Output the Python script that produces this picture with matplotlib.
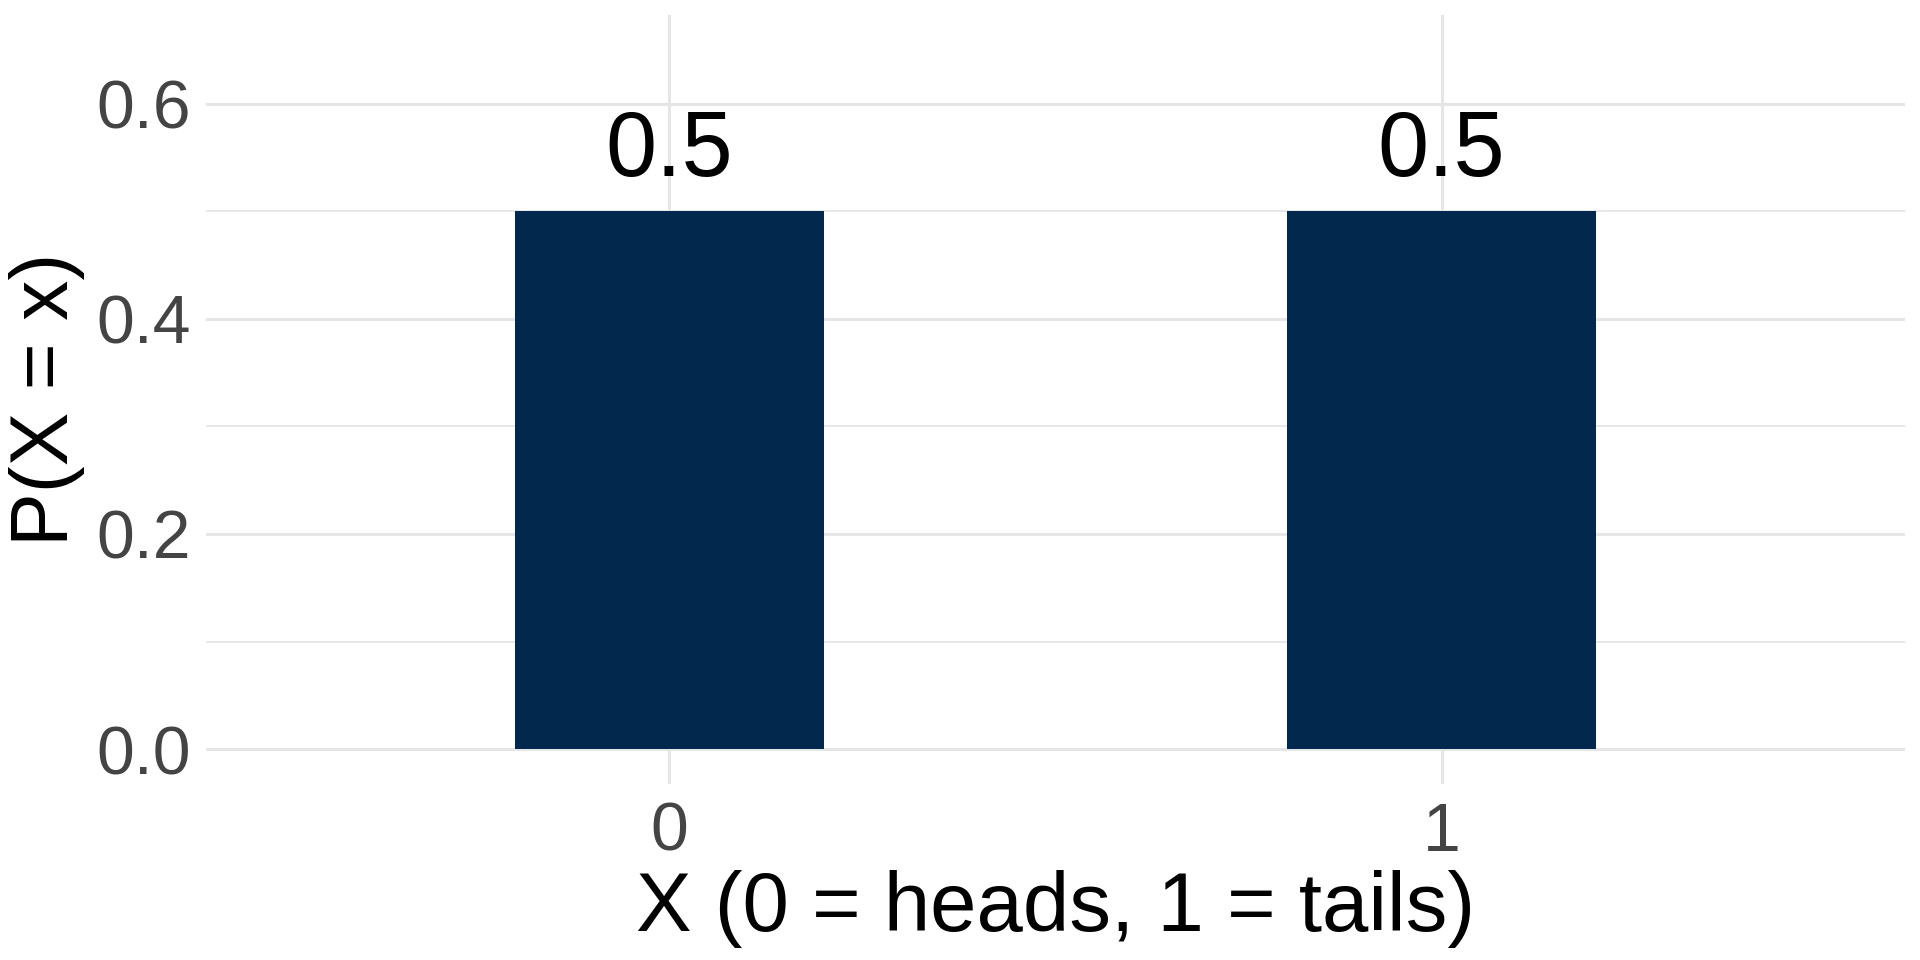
import matplotlib
matplotlib.use("Agg")
import matplotlib.pyplot as plt

# 数据
outcomes = [0, 1]
tick_labels = ["0", "1"]
probs = [0.5, 0.5]
y_ticks = [0.0, 0.2, 0.4, 0.6]
y_minor = [0.1, 0.3, 0.5]

BAR_COLOR = "#03284D"
GRID_COLOR = "#E6E6E6"

plt.rcParams["font.family"] = ["Liberation Sans", "DejaVu Sans"]

fig = plt.figure(figsize=(19.2, 9.6), dpi=100)
ax = fig.add_axes([0.1073, 0.1833, 0.8849, 0.8011])

ax.bar(outcomes, probs, width=0.4, color=BAR_COLOR, zorder=2)
for x, p in zip(outcomes, probs):
    ax.annotate(f"{p}", (x, p), xytext=(0, 12), textcoords="offset points",
                ha="center", va="bottom", fontsize=66, color="black", zorder=3)

ax.set_xlim(-0.6, 1.6)
ax.set_ylim(-0.0325, 0.6825)
ax.set_xticks(outcomes)
ax.set_xticklabels(tick_labels)
ax.set_yticks(y_ticks)
ax.set_yticklabels([f"{v:.1f}" for v in y_ticks])
ax.set_yticks(y_minor, minor=True)

ax.grid(True, which="major", color=GRID_COLOR, linewidth=2.2, zorder=0)
ax.grid(True, which="minor", axis="y", color=GRID_COLOR, linewidth=1.3, zorder=0)
ax.set_axisbelow(True)

ax.tick_params(axis="both", which="both", length=0, labelsize=49,
               labelcolor="#444444")
ax.tick_params(axis="x", pad=12)
ax.tick_params(axis="y", pad=11)
for s in ax.spines.values():
    s.set_visible(False)

ax.set_xlabel("X (0 = heads, 1 = tails)", fontsize=60, labelpad=4)
ax.set_ylabel("P(X = x)", fontsize=58, labelpad=8)

fig.savefig("out.png", dpi=100)
plt.close(fig)
